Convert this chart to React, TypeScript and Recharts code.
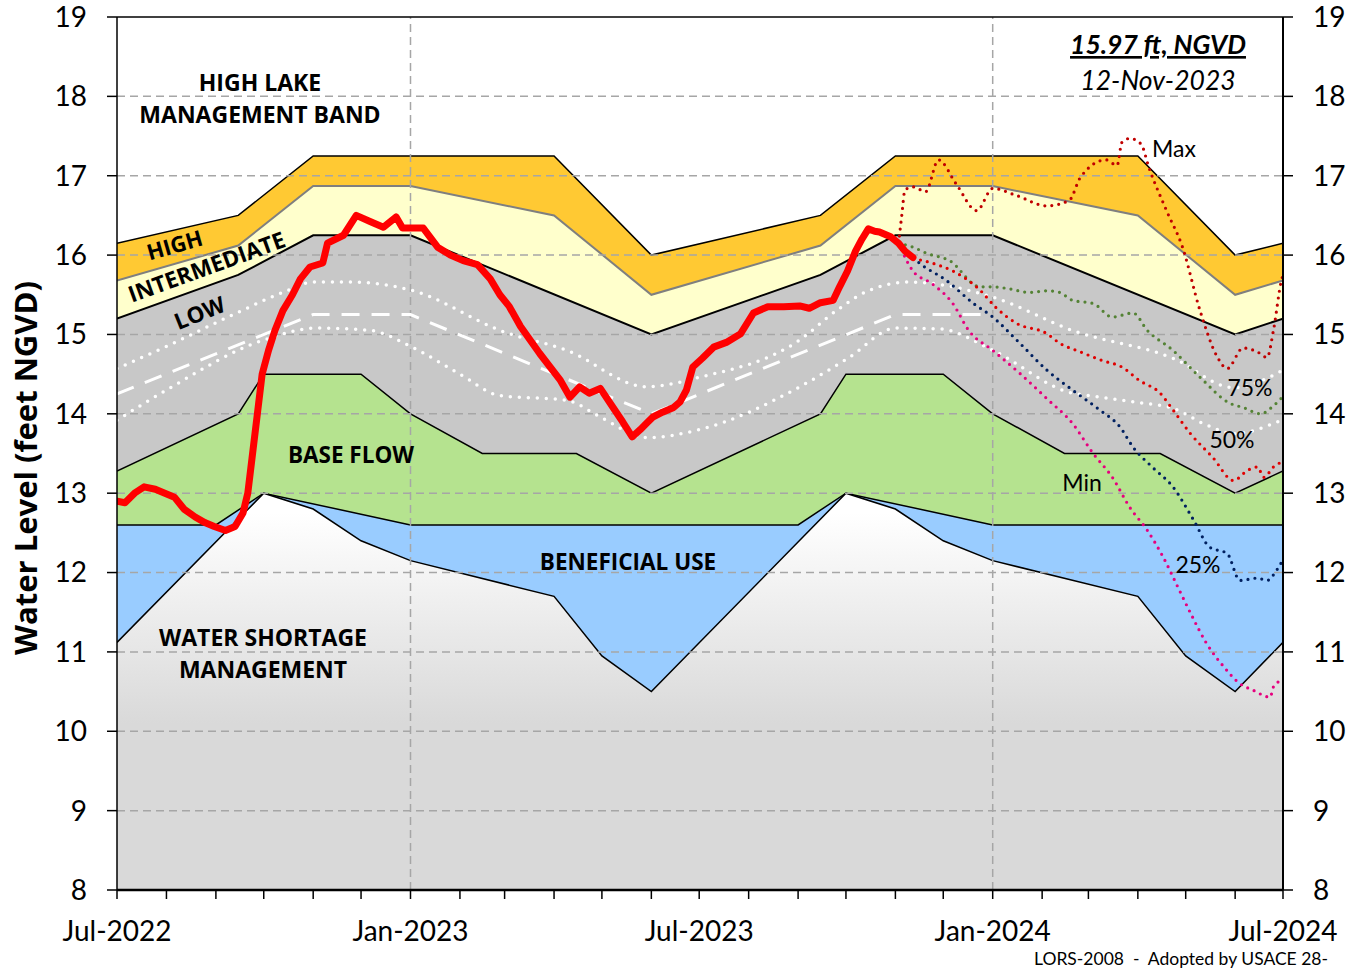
import React from 'react'
import { ComposedChart, Area, Line, XAxis, YAxis, ReferenceLine } from 'recharts'

type Pt = [string, number]

// ---- operational zones, LORS-2008 (ft NGVD) ----
const highTop: Pt[] = [
  ['2022-07-01', 16.15], ['2022-09-15', 16.5], ['2022-11-01', 17.25], ['2023-04-01', 17.25],
  ['2023-06-01', 16.0], ['2023-09-15', 16.5], ['2023-11-01', 17.25], ['2024-04-01', 17.25],
  ['2024-06-01', 16.0], ['2024-07-01', 16.15],
]
const intermediateTop: Pt[] = [
  ['2022-07-01', 15.68], ['2022-09-15', 16.12], ['2022-11-01', 16.87], ['2023-01-01', 16.87],
  ['2023-04-01', 16.5], ['2023-06-01', 15.5], ['2023-09-15', 16.12], ['2023-11-01', 16.87],
  ['2024-01-01', 16.87], ['2024-04-01', 16.5], ['2024-06-01', 15.5], ['2024-07-01', 15.68],
]
const lowTop: Pt[] = [
  ['2022-07-01', 15.2], ['2022-09-15', 15.75], ['2022-11-01', 16.25], ['2023-01-01', 16.25],
  ['2023-06-01', 15.0], ['2023-09-15', 15.75], ['2023-11-01', 16.25], ['2024-01-01', 16.25],
  ['2024-06-01', 15.0], ['2024-07-01', 15.2],
]
const baseFlowTop: Pt[] = [
  ['2022-07-01', 13.28], ['2022-09-15', 14.0], ['2022-10-01', 14.5], ['2022-12-01', 14.5],
  ['2023-01-01', 14.0], ['2023-02-15', 13.5], ['2023-04-15', 13.5], ['2023-06-01', 13.0],
  ['2023-09-15', 14.0], ['2023-10-01', 14.5], ['2023-12-01', 14.5], ['2024-01-01', 14.0],
  ['2024-02-15', 13.5], ['2024-04-15', 13.5], ['2024-06-01', 13.0], ['2024-07-01', 13.28],
]
const beneficialTop: Pt[] = [
  ['2022-07-01', 12.6], ['2022-09-01', 12.6], ['2022-10-01', 13.0], ['2023-01-01', 12.6],
  ['2023-09-01', 12.6], ['2023-10-01', 13.0], ['2024-01-01', 12.6], ['2024-07-01', 12.6],
]
const shortageTop: Pt[] = [
  ['2022-07-01', 11.12], ['2022-10-01', 13.0], ['2022-11-01', 12.8], ['2022-12-01', 12.4],
  ['2023-01-01', 12.15], ['2023-04-01', 11.7], ['2023-05-01', 10.95], ['2023-06-01', 10.5],
  ['2023-10-01', 13.0], ['2023-11-01', 12.8], ['2023-12-01', 12.4], ['2024-01-01', 12.15],
  ['2024-04-01', 11.7], ['2024-05-01', 10.95], ['2024-06-01', 10.5], ['2024-07-01', 11.12],
]

// low sub-band lines (white)
const lowUpper: Pt[] = [
  ['2022-07-01', 14.57], ['2022-08-01', 14.85], ['2022-09-15', 15.28], ['2022-10-13', 15.53],
  ['2022-11-01', 15.66], ['2022-11-25', 15.66], ['2023-01-01', 15.56], ['2023-03-01', 15.03],
  ['2023-04-09', 14.8], ['2023-05-29', 14.34], ['2023-07-01', 14.46], ['2023-09-02', 14.93],
  ['2023-09-25', 15.3], ['2023-10-15', 15.55], ['2023-11-10', 15.66], ['2024-01-01', 15.47],
  ['2024-02-20', 15.05], ['2024-04-23', 14.7], ['2024-05-31', 14.33], ['2024-07-01', 14.55],
]
const lowMiddle: Pt[] = [
  ['2022-07-01', 14.25], ['2022-11-01', 15.25], ['2023-01-01', 15.25], ['2023-06-01', 14.0],
  ['2023-11-01', 15.25], ['2024-01-01', 15.25],
]
const lowLower: Pt[] = [
  ['2022-07-01', 13.92], ['2022-08-01', 14.3], ['2022-10-01', 14.93], ['2022-11-03', 15.08],
  ['2022-12-07', 15.05], ['2023-01-01', 14.85], ['2023-02-01', 14.5], ['2023-02-26', 14.23],
  ['2023-04-09', 14.17], ['2023-04-30', 13.96], ['2023-05-29', 13.7], ['2023-07-01', 13.8],
  ['2023-09-02', 14.34], ['2023-10-03', 14.71], ['2023-11-01', 15.08], ['2023-11-29', 15.07],
  ['2024-01-01', 14.8], ['2024-02-20', 14.26], ['2024-03-01', 14.23], ['2024-04-02', 14.14],
  ['2024-04-23', 14.07], ['2024-05-14', 13.86], ['2024-05-31', 13.75], ['2024-07-01', 13.93],
]

// observed stage
const observed: Pt[] = [
  ['2022-07-01', 12.9], ['2022-07-06', 12.88], ['2022-07-12', 13.0], ['2022-07-18', 13.08],
  ['2022-07-25', 13.05], ['2022-07-31', 13.0], ['2022-08-06', 12.95], ['2022-08-12', 12.8],
  ['2022-08-19', 12.7], ['2022-08-25', 12.63], ['2022-08-31', 12.58], ['2022-09-07', 12.53],
  ['2022-09-13', 12.58], ['2022-09-18', 12.75], ['2022-09-21', 13.0], ['2022-09-24', 13.5],
  ['2022-09-27', 14.0], ['2022-09-30', 14.5], ['2022-10-04', 14.8], ['2022-10-08', 15.05],
  ['2022-10-13', 15.3], ['2022-10-19', 15.5], ['2022-10-24', 15.7], ['2022-10-30', 15.85],
  ['2022-11-07', 15.9], ['2022-11-10', 16.15], ['2022-11-20', 16.25], ['2022-11-28', 16.5],
  ['2022-12-07', 16.42], ['2022-12-15', 16.35], ['2022-12-23', 16.48], ['2022-12-27', 16.34],
  ['2023-01-09', 16.34], ['2023-01-18', 16.1], ['2023-01-26', 16.0], ['2023-02-03', 15.93],
  ['2023-02-12', 15.88], ['2023-02-20', 15.7], ['2023-02-26', 15.5], ['2023-03-04', 15.35],
  ['2023-03-11', 15.1], ['2023-03-23', 14.76], ['2023-04-05', 14.42], ['2023-04-11', 14.21],
  ['2023-04-17', 14.34], ['2023-04-23', 14.26], ['2023-04-30', 14.32], ['2023-05-08', 14.08],
  ['2023-05-14', 13.9], ['2023-05-20', 13.71], ['2023-05-25', 13.8], ['2023-05-29', 13.88],
  ['2023-06-02', 13.96], ['2023-06-08', 14.02], ['2023-06-15', 14.08], ['2023-06-19', 14.15],
  ['2023-06-23', 14.3], ['2023-06-27', 14.59], ['2023-07-03', 14.7], ['2023-07-10', 14.84],
  ['2023-07-18', 14.9], ['2023-07-27', 15.01], ['2023-08-04', 15.27], ['2023-08-13', 15.35],
  ['2023-08-23', 15.35], ['2023-09-02', 15.36], ['2023-09-08', 15.33], ['2023-09-15', 15.4],
  ['2023-09-23', 15.43], ['2023-09-27', 15.6], ['2023-10-02', 15.8], ['2023-10-07', 16.05],
  ['2023-10-11', 16.2], ['2023-10-15', 16.33], ['2023-10-19', 16.3], ['2023-10-22', 16.29],
  ['2023-10-29', 16.23], ['2023-11-03', 16.15], ['2023-11-07', 16.05], ['2023-11-12', 15.97],
]

// position analysis forecasts
const fcMax: Pt[] = [
  ['2023-11-03', 16.15], ['2023-11-05', 16.5], ['2023-11-07', 16.82], ['2023-11-12', 16.86],
  ['2023-11-20', 16.8], ['2023-11-28', 17.2], ['2023-12-09', 16.9], ['2023-12-22', 16.56],
  ['2024-01-01', 16.84], ['2024-01-16', 16.75], ['2024-02-04', 16.62], ['2024-02-18', 16.69],
  ['2024-02-25', 16.98], ['2024-03-12', 17.2], ['2024-03-19', 17.13], ['2024-03-22', 17.42],
  ['2024-03-27', 17.47], ['2024-04-03', 17.4], ['2024-04-08', 17.1], ['2024-04-19', 16.56],
  ['2024-04-29', 16.1], ['2024-05-10', 15.3], ['2024-05-21', 14.71], ['2024-05-27', 14.57],
  ['2024-06-06', 14.83], ['2024-06-15', 14.78], ['2024-06-21', 14.71], ['2024-06-25', 15.05],
  ['2024-06-30', 15.68], ['2024-07-01', 15.75],
]
const fc75: Pt[] = [
  ['2023-11-03', 16.15], ['2023-11-12', 16.1], ['2023-11-21', 16.02], ['2023-12-05', 15.93],
  ['2023-12-24', 15.6], ['2024-01-01', 15.6], ['2024-01-10', 15.58], ['2024-01-24', 15.53],
  ['2024-02-04', 15.55], ['2024-02-12', 15.53], ['2024-02-20', 15.43], ['2024-03-04', 15.39],
  ['2024-03-16', 15.22], ['2024-03-29', 15.27], ['2024-04-07', 15.05], ['2024-04-23', 14.8],
  ['2024-05-10', 14.46], ['2024-05-29', 14.13], ['2024-06-06', 14.08], ['2024-06-17', 14.0],
  ['2024-06-25', 14.1], ['2024-07-01', 14.22],
]
const fc50: Pt[] = [
  ['2023-11-03', 16.15], ['2023-11-12', 15.98], ['2023-11-24', 15.9], ['2023-12-07', 15.8],
  ['2023-12-24', 15.56], ['2024-01-03', 15.34], ['2024-01-16', 15.14], ['2024-02-04', 15.01],
  ['2024-02-12', 14.89], ['2024-02-25', 14.78], ['2024-03-10', 14.67], ['2024-03-22', 14.59],
  ['2024-04-02', 14.42], ['2024-04-15', 14.26], ['2024-04-23', 14.05], ['2024-05-04', 13.75],
  ['2024-05-18', 13.45], ['2024-05-31', 13.16], ['2024-06-09', 13.29], ['2024-06-15', 13.33],
  ['2024-06-19', 13.2], ['2024-06-25', 13.33], ['2024-07-01', 13.4],
]
const fc25: Pt[] = [
  ['2023-11-03', 16.15], ['2023-11-16', 15.9], ['2023-12-03', 15.68], ['2023-12-20', 15.39],
  ['2024-01-01', 15.22], ['2024-01-18', 14.89], ['2024-02-04', 14.55], ['2024-02-20', 14.3],
  ['2024-03-08', 14.05], ['2024-03-21', 13.83], ['2024-03-29', 13.58], ['2024-04-10', 13.33],
  ['2024-04-23', 13.08], ['2024-05-06', 12.66], ['2024-05-16', 12.32], ['2024-05-27', 12.24],
  ['2024-06-04', 11.9], ['2024-06-15', 11.93], ['2024-06-21', 11.9], ['2024-06-27', 12.03],
  ['2024-07-01', 12.16],
]
const fcMin: Pt[] = [
  ['2023-11-03', 16.15], ['2023-11-12', 15.8], ['2023-11-24', 15.64], ['2023-12-07', 15.39],
  ['2023-12-17', 15.05], ['2024-01-01', 14.8], ['2024-01-18', 14.51], ['2024-02-04', 14.19],
  ['2024-02-20', 13.88], ['2024-03-04', 13.5], ['2024-03-16', 13.2], ['2024-03-27', 12.82],
  ['2024-04-07', 12.53], ['2024-04-17', 12.19], ['2024-04-26', 11.82], ['2024-05-04', 11.49],
  ['2024-05-14', 11.11], ['2024-05-25', 10.81], ['2024-06-04', 10.6], ['2024-06-12', 10.52],
  ['2024-06-23', 10.43], ['2024-06-25', 10.56], ['2024-07-01', 10.65],
]

const yTicks = [8, 9, 10, 11, 12, 13, 14, 15, 16, 17, 18, 19]
const gridLevels = [9, 10, 11, 12, 13, 14, 15, 16, 17, 18]
const gridDates = ['2023-01-01', '2024-01-01']
const xLabels: [string, string][] = [
  ['2022-07-01', 'Jul-2022'], ['2023-01-01', 'Jan-2023'], ['2023-07-01', 'Jul-2023'],
  ['2024-01-01', 'Jan-2024'], ['2024-07-01', 'Jul-2024'],
]

const START = Date.UTC(2022, 6, 1)
const dayOf = (s: string) => {
  const [y, m, d] = s.split('-').map(Number)
  return Math.round((Date.UTC(y, m - 1, d) - START) / 864e5)
}
const toSeries = (pts: Pt[]) => pts.map(([date, v]) => ({ d: dayOf(date), v }))

const monthTicks: number[] = []
for (let i = 0; i <= 24; i++) {
  monthTicks.push(Math.round((Date.UTC(2022, 6 + i, 1) - START) / 864e5))
}
const labelByDay: Record<number, string> = {}
xLabels.forEach(([date, label]) => { labelByDay[dayOf(date)] = label })
const X_END = dayOf('2024-07-01')

const tickFont = { fontSize: 28, fill: '#000', fontFamily: 'Lato, sans-serif' }
const boldFont = 'Open Sans, sans-serif'
const dotted = { strokeDasharray: '0 7', strokeLinecap: 'round' as const, strokeWidth: 3.2 }

export default function App() {
  return (
    <div style={{ position: 'relative', width: 1354, height: 969, background: '#fff' }}>
      <style>{'body{margin:0}'}</style>
      <ComposedChart width={1354} height={969} margin={{ top: 17, right: 0, bottom: 0, left: 0 }}>
        <defs>
          <linearGradient id="shortage" x1="0" y1="0" x2="0" y2="1">
            <stop offset="0.05" stopColor="#ffffff" />
            <stop offset="0.58" stopColor="#d9d9d9" />
            <stop offset="1" stopColor="#d9d9d9" />
          </linearGradient>
        </defs>
        <XAxis
          type="number"
          dataKey="d"
          domain={[0, X_END]}
          ticks={monthTicks}
          interval={0}
          tickFormatter={(d: number) => labelByDay[d] ?? ''}
          tick={tickFont}
          tickSize={9}
          tickMargin={22}
          height={79}
          allowDataOverflow
          axisLine={{ stroke: '#000', strokeWidth: 2.5 }}
          tickLine={{ stroke: '#000', strokeWidth: 1.5 }}
        />
        <YAxis
          yAxisId="left"
          type="number"
          domain={[8, 19]}
          ticks={yTicks}
          interval={0}
          width={117}
          tick={tickFont}
          tickSize={10}
          tickMargin={20}
          allowDataOverflow
          axisLine={{ stroke: '#000', strokeWidth: 1.5 }}
          tickLine={{ stroke: '#000', strokeWidth: 1.5 }}
        />
        <YAxis
          yAxisId="right"
          orientation="right"
          type="number"
          domain={[8, 19]}
          ticks={yTicks}
          interval={0}
          width={71}
          tick={tickFont}
          tickSize={10}
          tickMargin={20}
          allowDataOverflow
          axisLine={{ stroke: '#000', strokeWidth: 2 }}
          tickLine={{ stroke: '#000', strokeWidth: 1.5 }}
        />

        <Area yAxisId="left" data={toSeries(highTop)} dataKey="v" type="linear" fill="#ffc933" fillOpacity={1} stroke="#000" strokeWidth={1.5} dot={false} activeDot={false} isAnimationActive={false} />
        <Area yAxisId="left" data={toSeries(intermediateTop)} dataKey="v" type="linear" fill="#ffffcc" fillOpacity={1} stroke="#7f7f7f" strokeWidth={2} dot={false} activeDot={false} isAnimationActive={false} />
        <Area yAxisId="left" data={toSeries(lowTop)} dataKey="v" type="linear" fill="#c8c8c8" fillOpacity={1} stroke="#000" strokeWidth={2} dot={false} activeDot={false} isAnimationActive={false} />
        <Area yAxisId="left" data={toSeries(baseFlowTop)} dataKey="v" type="linear" fill="#b5e38f" fillOpacity={1} stroke="#000" strokeWidth={1.5} dot={false} activeDot={false} isAnimationActive={false} />
        <Area yAxisId="left" data={toSeries(beneficialTop)} dataKey="v" type="linear" fill="#99ccff" fillOpacity={1} stroke="#000" strokeWidth={1.5} dot={false} activeDot={false} isAnimationActive={false} />
        <Area yAxisId="left" data={toSeries(shortageTop)} dataKey="v" type="linear" fill="url(#shortage)" fillOpacity={1} stroke="#000" strokeWidth={1.5} dot={false} activeDot={false} isAnimationActive={false} />

        {gridLevels.map((y) => (
          <ReferenceLine key={'h' + y} yAxisId="left" y={y} stroke="#a6a6a6" strokeWidth={1.5} strokeDasharray="8 5" zIndex={250} />
        ))}
        {gridDates.map((date) => (
          <ReferenceLine key={'v' + date} yAxisId="left" x={dayOf(date)} stroke="#a6a6a6" strokeWidth={1.5} strokeDasharray="8 5" zIndex={250} />
        ))}
        <ReferenceLine yAxisId="left" y={19} stroke="#000" strokeWidth={1.5} zIndex={250} />

        <Line yAxisId="left" data={toSeries(lowUpper)} dataKey="v" type="monotone" stroke="#fff" strokeWidth={3.5} strokeDasharray="0 9" strokeLinecap="round" dot={false} activeDot={false} isAnimationActive={false} />
        <Line yAxisId="left" data={toSeries(lowLower)} dataKey="v" type="monotone" stroke="#fff" strokeWidth={3.5} strokeDasharray="0 9" strokeLinecap="round" dot={false} activeDot={false} isAnimationActive={false} />
        <Line yAxisId="left" data={toSeries(lowMiddle)} dataKey="v" type="linear" stroke="#fff" strokeWidth={3} strokeDasharray="18 12" dot={false} activeDot={false} isAnimationActive={false} />

        <Line yAxisId="left" data={toSeries(fcMax)} dataKey="v" type="monotone" stroke="#c00000" {...dotted} dot={false} activeDot={false} isAnimationActive={false} />
        <Line yAxisId="left" data={toSeries(fc75)} dataKey="v" type="monotone" stroke="#548235" {...dotted} dot={false} activeDot={false} isAnimationActive={false} />
        <Line yAxisId="left" data={toSeries(fc50)} dataKey="v" type="monotone" stroke="#e00000" {...dotted} dot={false} activeDot={false} isAnimationActive={false} />
        <Line yAxisId="left" data={toSeries(fc25)} dataKey="v" type="monotone" stroke="#002060" {...dotted} dot={false} activeDot={false} isAnimationActive={false} />
        <Line yAxisId="left" data={toSeries(fcMin)} dataKey="v" type="monotone" stroke="#e6007e" {...dotted} dot={false} activeDot={false} isAnimationActive={false} />

        <Line yAxisId="left" data={toSeries(observed)} dataKey="v" type="linear" stroke="#ff0000" strokeWidth={7} strokeLinejoin="round" strokeLinecap="round" dot={false} activeDot={false} isAnimationActive={false} />
      </ComposedChart>

      <svg width={1354} height={969} style={{ position: 'absolute', left: 0, top: 0, pointerEvents: 'none' }}>
        <g fontFamily={boldFont} fontWeight={700} fontSize={23} textAnchor="middle" fill="#000">
          <text x={260} y={91}>HIGH LAKE</text>
          <text x={260} y={123}>MANAGEMENT BAND</text>
          <text x={351} y={463} fontSize={22.5}>BASE FLOW</text>
          <text x={628} y={570} fontSize={22.5}>BENEFICIAL USE</text>
          <text x={263} y={646}>WATER SHORTAGE</text>
          <text x={263} y={678}>MANAGEMENT</text>
          <text x={175} y={253} fontSize={22} transform="rotate(-16 175 246)">HIGH</text>
          <text x={207} y={275} fontSize={22.5} transform="rotate(-20 207 268)">INTERMEDIATE</text>
          <text x={200} y={321} fontSize={22.5} transform="rotate(-22 200 314)">LOW</text>
          <text transform="translate(37 468) rotate(-90)" fontSize={31}>Water Level (feet NGVD)</text>
        </g>
        <g fontFamily="Lato, sans-serif" fill="#000" textAnchor="middle">
          <text x={1158} y={54} fontSize={26.5} fontWeight={700} fontStyle="italic" textDecoration="underline">15.97 ft, NGVD</text>
          <text x={1158} y={90} fontSize={26.5} fontStyle="italic">12-Nov-2023</text>
          <text x={1174} y={157} fontSize={23}>Max</text>
          <text x={1250} y={396} fontSize={23}>75%</text>
          <text x={1232} y={448} fontSize={23}>50%</text>
          <text x={1082} y={491} fontSize={23}>Min</text>
          <text x={1198} y={573} fontSize={23}>25%</text>
          <text x={1034} y={965} fontSize={17.5} textAnchor="start" style={{ whiteSpace: 'pre' }}>LORS-2008  -  Adopted by USACE 28-</text>
        </g>
      </svg>
    </div>
  )
}
